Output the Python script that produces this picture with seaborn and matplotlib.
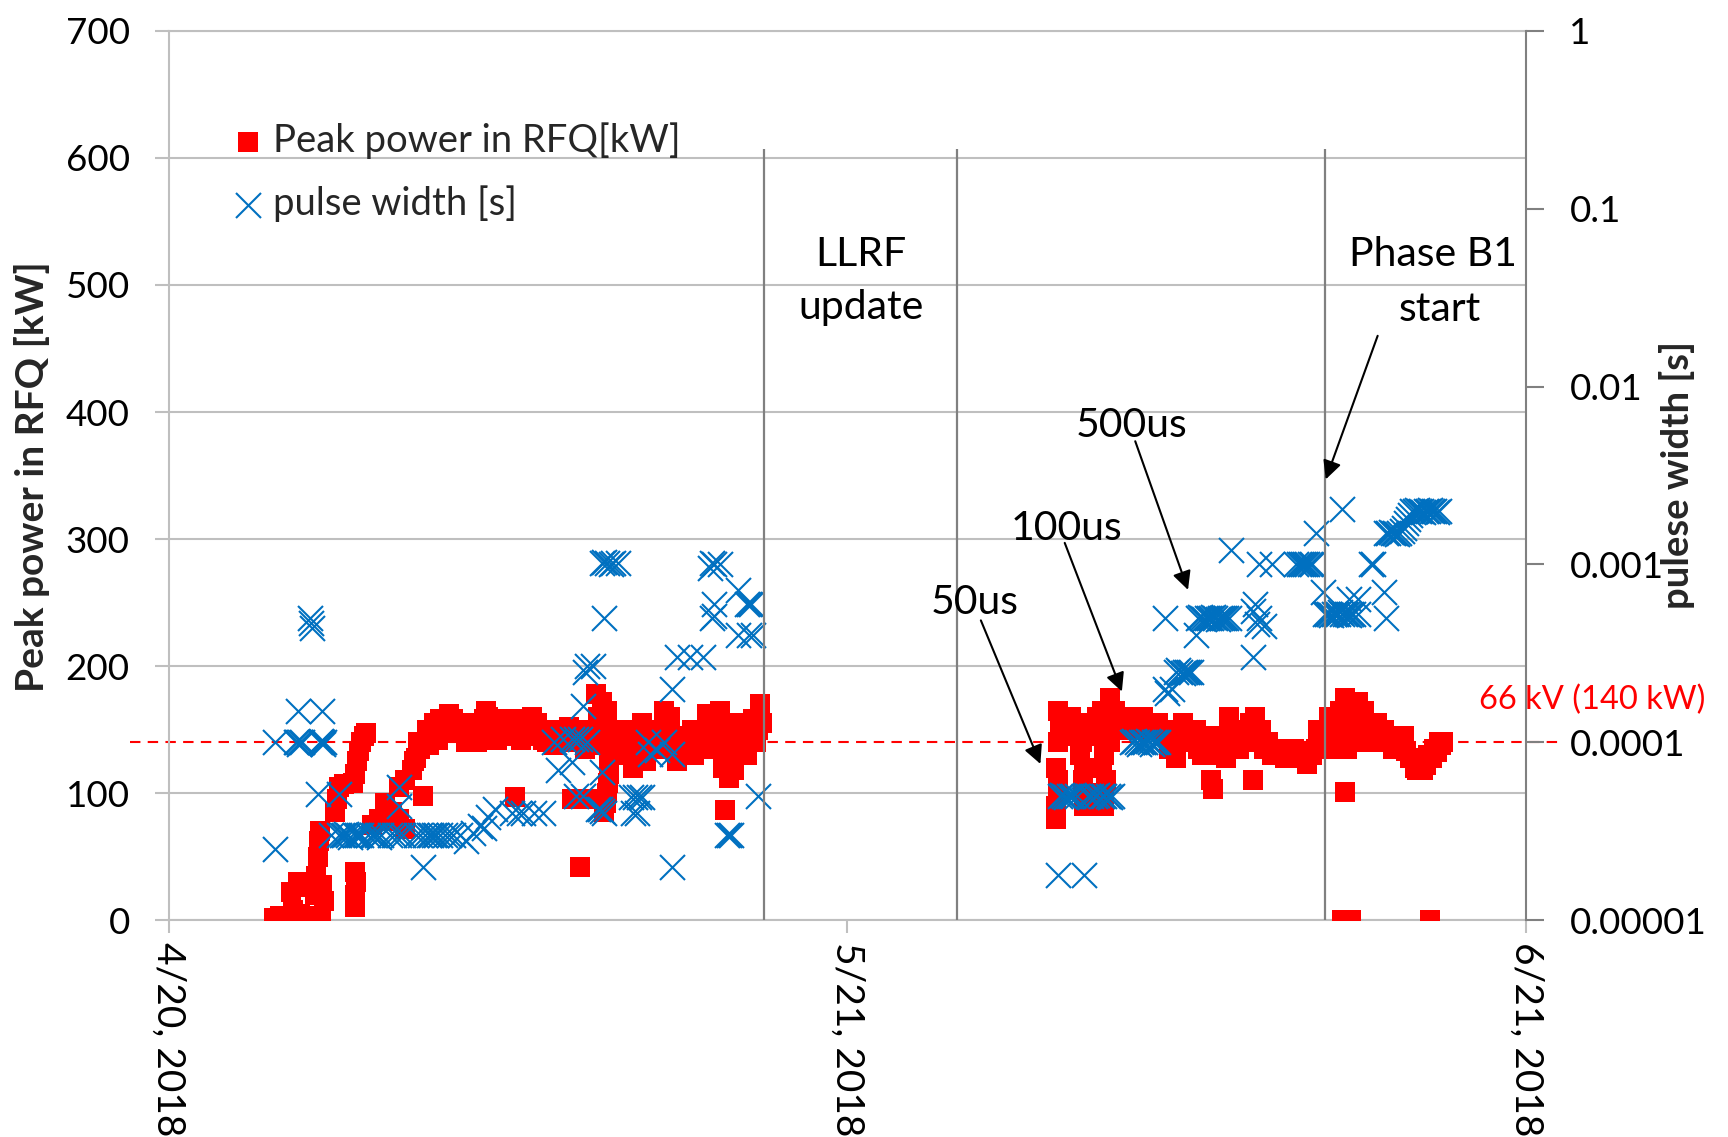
import numpy as np
import pandas as pd
import matplotlib
matplotlib.use("Agg")
import matplotlib.pyplot as plt
import matplotlib.dates as mdates
from matplotlib.ticker import FixedLocator, NullLocator, FixedFormatter
import seaborn as sns

# ---------------- data (days after 2018-04-20) ----------------
START = pd.Timestamp("2018-04-20")

# Peak power in RFQ [kW]  (day offset, kW)
power_points = [
    (4.8, 2), (5.1, 3), (5.4, 2), (5.6, 22), (5.7, 8), (5.9, 30), (6.0, 5), (6.1, 26),
    (6.3, 3), (6.6, 2), (6.7, 20), (6.75, 35), (6.8, 50), (6.85, 62), (6.9, 70), (6.95, 1),
    (7.0, 28), (7.1, 15),
    (7.6, 85), (7.7, 95), (7.8, 105), (8.0, 107),
    (8.4, 108), (8.5, 115), (8.6, 125), (8.7, 133), (8.8, 140), (8.9, 145), (9.0, 147),
    (8.5, 10), (8.5, 20), (8.55, 30), (8.5, 38),
    (9.3, 75), (9.6, 80), (9.9, 78), (9.9, 92), (10.2, 85), (10.5, 80), (10.8, 72),
    (10.5, 105), (10.8, 110), (11.6, 98),
    (11.1, 118), (11.3, 128), (11.5, 135), (11.7, 140), (12.0, 145), (12.3, 142), (12.6, 147),
    (11.2, 125), (11.4, 140), (11.8, 150), (11.9, 138), (12.1, 155), (12.2, 148), (12.5, 152),
    (12.7, 155), (12.9, 150), (13.1, 152), (13.3, 148),
    (12.4, 158), (12.8, 162), (13.0, 158),
    (13.5, 150), (13.8, 145), (14.1, 140), (14.3, 148),
    (13.6, 140), (13.7, 155), (13.9, 150), (14.0, 147), (14.2, 152), (14.4, 158), (14.6, 160),
    (14.8, 150), (15.0, 142), (15.2, 150), (15.4, 152), (15.6, 145), (15.9, 158), (16.0, 148),
    (16.2, 150), (16.4, 155), (16.5, 145), (16.8, 155), (17.0, 148), (17.2, 150), (17.3, 140),
    (14.5, 165), (14.7, 155), (14.9, 148),
    (15.5, 158), (15.8, 150), (16.1, 142), (16.3, 145), (15.8, 97),
    (16.6, 160), (16.9, 150), (17.1, 142),
    (17.5, 148), (17.8, 145), (18.2, 145), (18.5, 150), (18.8, 140), (19.1, 145), (19.3, 138),
    (17.4, 142), (17.6, 138), (17.9, 150), (18.0, 140), (18.3, 152), (18.6, 145), (18.9, 148),
    (19.0, 135), (19.2, 150), (19.4, 142), (19.7, 150),
    (18.4, 95), (18.8, 95), (19.2, 95), (18.8, 42),
    (19.5, 178), (19.8, 172), (20.0, 165), (19.6, 160),
    (19.9, 85), (20.0, 100), (20.1, 115), (20.1, 130), (20.0, 145),
    (19.95, 92), (20.05, 108), (20.1, 122), (20.15, 138),
    (20.5, 150), (20.8, 140), (21.0, 130), (21.2, 120), (21.3, 145), (21.6, 155), (21.8, 125),
    (20.3, 140), (20.6, 145), (20.7, 135), (20.9, 150), (21.1, 140), (21.4, 135), (21.5, 150),
    (21.7, 145), (21.9, 140), (22.0, 150), (22.2, 145), (22.4, 150), (22.5, 140), (22.7, 158),
    (22.1, 135), (22.6, 165), (22.8, 150), (22.9, 160), (23.0, 135), (23.2, 125),
    (23.1, 145), (23.3, 140), (23.5, 135), (23.8, 138), (23.9, 150), (24.1, 140), (24.3, 145),
    (24.5, 150), (24.7, 145), (24.8, 135), (25.0, 148),
    (23.7, 145), (24.0, 130), (24.6, 162), (24.9, 155), (25.1, 140), (25.2, 165),
    (25.3, 120), (25.6, 112), (25.4, 87), (25.8, 118),
    (25.5, 145), (25.7, 130), (25.9, 140), (26.0, 155), (26.2, 150), (26.3, 138), (26.5, 145),
    (26.7, 158), (26.9, 150), (27.1, 155),
    (25.8, 155), (26.1, 145), (26.4, 130), (26.6, 150), (26.8, 140), (27.0, 170), (27.0, 160),
    (40.5, 80), (40.5, 90), (40.6, 100), (40.6, 110), (40.6, 165), (40.8, 160), (41.0, 155),
    (40.7, 150), (41.7, 155), (41.7, 140), (41.8, 120), (41.8, 100), (41.8, 90),
    (40.5, 120), (40.6, 140), (40.9, 145), (41.2, 160), (41.5, 150), (41.6, 130), (41.75, 110),
    (41.9, 100), (42.1, 155), (42.3, 150), (42.4, 160), (42.5, 145), (42.6, 120), (42.7, 100),
    (42.6, 165), (42.8, 150), (42.7, 130), (42.8, 110), (42.7, 90), (43.0, 140), (43.0, 175),
    (42.9, 160), (43.2, 165), (43.4, 155), (43.6, 160), (43.8, 150), (44.0, 155), (44.2, 150),
    (44.5, 160), (44.9, 150), (45.2, 155), (45.6, 145), (45.8, 140), (45.9, 150), (46.1, 140),
    (43.9, 160), (44.3, 158), (44.7, 155), (45.1, 150), (45.4, 150),
    (45.7, 135), (46.0, 128), (46.3, 155), (46.7, 150),
    (46.5, 145), (46.9, 150), (47.0, 135), (47.4, 145), (47.8, 130), (48.1, 145), (48.5, 150),
    (48.7, 140), (48.9, 135), (49.1, 145), (49.3, 140), (49.6, 160), (49.9, 150), (50.2, 140),
    (46.8, 140), (47.2, 130), (47.6, 140), (48.0, 135), (48.3, 128), (47.6, 110), (47.7, 103),
    (48.4, 160), (49.5, 110), (49.4, 155), (49.7, 145), (50.0, 135),
    (50.4, 130), (50.8, 130), (51.2, 132), (51.6, 132), (52.0, 133), (52.4, 135), (52.0, 123),
    (50.6, 135), (51.0, 128), (51.4, 135), (51.8, 128), (52.2, 130), (52.7, 145), (52.9, 150),
    (52.5, 150), (52.5, 140),
    (53.0, 160), (53.4, 150), (53.5, 165), (53.9, 155), (54.1, 165), (54.4, 160), (54.5, 150),
    (53.2, 135), (53.6, 145), (53.8, 135), (53.7, 175), (53.8, 165),
    (54.3, 172), (54.6, 165), (54.9, 155), (55.0, 145), (55.2, 155), (55.5, 150), (54.7, 140),
    (54.8, 148), (55.1, 140), (55.4, 145), (55.7, 145), (55.9, 135), (56.2, 142),
    (55.8, 140), (56.1, 138), (56.4, 145), (56.5, 133),
    (56.7, 128), (57.0, 118), (57.4, 122), (57.7, 128), (57.9, 132), (58.1, 138), (58.2, 140),
    (56.9, 120), (57.2, 125), (57.5, 130), (57.8, 135), (58.0, 140), (57.3, 118),
    (53.7, 101), (53.6, 0), (54.0, 0), (57.6, 0),
]

# pulse width [s]  (day offset, seconds)
pulse_points = [
    (4.86, 2.5e-5), (4.86, 1e-4), (5.8, 1e-4), (6.0, 1e-4), (6.1, 1e-4), (6.9, 1e-4),
    (7.0, 1e-4), (7.1, 1e-4), (5.85, 1e-4), (5.95, 0.98e-4), (6.95, 1.02e-4), (7.05, 0.98e-4),
    (5.9, 1.5e-4), (7.0, 1.5e-4),
    (6.45, 5e-4), (6.5, 4.7e-4), (6.55, 4.4e-4),
    (6.8, 5.1e-5), (7.8, 5.1e-5), (10.5, 5.6e-5), (10.5, 4.4e-5),
    (7.4, 3e-5), (7.8, 3e-5), (8.0, 3e-5), (8.2, 3e-5), (8.5, 3e-5), (8.7, 3e-5), (9.3, 3e-5),
    (9.5, 3e-5), (9.7, 3e-5), (10.1, 3e-5), (10.5, 3e-5), (11.3, 3e-5), (11.5, 3e-5),
    (11.7, 3e-5), (12.0, 3e-5), (12.2, 3e-5), (12.4, 3e-5), (12.8, 3e-5), (13.3, 3e-5),
    (7.9, 3e-5), (8.1, 3.05e-5), (8.3, 2.95e-5), (8.6, 3e-5), (8.8, 3e-5), (9.1, 3e-5),
    (9.4, 3e-5), (9.6, 2.95e-5), (10.3, 3e-5), (10.7, 3e-5), (11.9, 3e-5), (12.1, 3e-5),
    (12.6, 3e-5), (13.0, 3e-5),
    (13.6, 2.8e-5), (13.9, 3.1e-5), (14.2, 3.4e-5), (14.4, 3.3e-5), (14.6, 3.8e-5),
    (14.9, 4.2e-5), (11.6, 2e-5),
    (15.7, 4e-5), (16.0, 4e-5), (16.2, 4e-5), (16.7, 4e-5), (17.1, 4e-5),
    (17.8, 7e-5), (18.4, 7.8e-5), (18.0, 1.05e-4), (18.4, 1.05e-4), (18.6, 1.05e-4),
    (18.8, 1.05e-4), (19.1, 1e-4), (17.6, 1e-4),
    (18.6, 5e-5), (18.9, 5e-5), (19.8, 6.8e-5),
    (19.6, 4.2e-5), (19.7, 4.2e-5), (19.8, 4.1e-5), (19.9, 4e-5),
    (21.1, 4.9e-5), (21.3, 4.9e-5), (21.5, 4.9e-5), (21.6, 4.9e-5), (21.2, 4e-5), (21.4, 4e-5),
    (22.0, 8.6e-5), (23.0, 8.6e-5), (21.9, 1e-4), (22.6, 1e-4), (22.3, 9e-5),
    (18.9, 1.6e-4), (19.0, 2.5e-4), (19.1, 2.7e-4), (19.4, 2.7e-4), (19.9, 5e-4),
    (19.8, 1.02e-3), (20.0, 1.02e-3), (20.2, 1e-3), (20.5, 1.02e-3), (19.9, 1.03e-3),
    (20.3, 1.02e-3),
    (23.0, 2e-4), (23.2, 3e-4), (23.8, 3e-4), (24.4, 3e-4), (23.0, 2e-5),
    (24.7, 9.5e-4), (24.9, 1e-3), (25.2, 1e-3), (24.8, 1.02e-3),
    (24.9, 6e-4), (24.8, 5e-4), (24.9, 5.1e-4),
    (26.0, 7.2e-4), (26.4, 6e-4), (26.5, 6e-4), (26.6, 6e-4), (26.0, 4e-4), (26.5, 4e-4),
    (26.7, 4e-4), (25.5, 3e-5), (25.6, 3e-5), (25.7, 3e-5), (26.9, 5e-5),
    (40.6, 1.8e-5), (41.8, 1.8e-5),
    (40.7, 5e-5), (40.9, 5e-5), (41.1, 5e-5), (41.3, 5e-5), (41.5, 5e-5), (42.0, 5e-5),
    (42.3, 5e-5), (42.6, 5e-5), (42.9, 5e-5), (43.1, 5e-5),
    (40.8, 5.05e-5), (41.0, 4.95e-5), (41.2, 5e-5), (42.1, 5e-5), (42.4, 5.05e-5),
    (42.7, 5e-5), (43.0, 4.95e-5),
    (44.0, 1e-4), (44.2, 1e-4), (44.4, 1e-4), (44.6, 1e-4), (44.8, 1e-4), (45.0, 1e-4), (45.2, 1e-4),
    (44.1, 1.02e-4), (44.3, 0.98e-4), (44.5, 1e-4), (44.7, 1.02e-4), (44.9, 0.98e-4), (45.1, 1e-4),
    (45.5, 2e-4), (45.6, 1.9e-4), (45.8, 2e-4),
    (46.0, 2.5e-4), (46.2, 2.5e-4), (46.4, 2.5e-4), (46.6, 2.5e-4), (46.7, 2.5e-4),
    (46.1, 2.55e-4), (46.3, 2.45e-4), (46.5, 2.5e-4),
    (45.5, 5e-4), (46.9, 4e-4),
    (47.0, 5e-4), (47.2, 5e-4), (47.4, 5e-4), (47.6, 5e-4), (47.8, 5e-4), (48.0, 5e-4),
    (48.2, 5e-4), (48.4, 5e-4),
    (47.1, 5.05e-4), (47.3, 4.95e-4), (47.5, 5e-4), (47.7, 5.05e-4), (47.9, 4.95e-4),
    (48.1, 5e-4), (48.3, 5e-4),
    (48.5, 1.2e-3), (49.8, 1e-3),
    (49.6, 6e-4), (49.8, 5e-4), (49.7, 4.6e-4), (49.5, 5.5e-4), (50.0, 4.5e-4), (49.5, 3e-4),
    (50.4, 1e-3), (51.5, 1e-3), (51.7, 1e-3), (51.9, 1e-3), (52.1, 1e-3), (54.9, 1e-3), (55.0, 1e-3),
    (51.6, 1e-3), (51.8, 1e-3), (52.0, 1e-3), (52.2, 1e-3),
    (52.4, 1.5e-3), (53.6, 2.05e-3), (52.7, 7e-4), (55.5, 7e-4),
    (52.8, 5.3e-4), (53.0, 5.3e-4), (53.2, 5.3e-4), (53.4, 5.3e-4), (53.6, 5.3e-4),
    (53.8, 5.3e-4), (54.0, 5.3e-4), (54.3, 5.3e-4),
    (52.9, 5.3e-4), (53.1, 5.2e-4), (53.3, 5.3e-4), (53.5, 5.4e-4), (53.7, 5.3e-4),
    (53.9, 5.2e-4), (54.1, 5.3e-4),
    (53.9, 6.4e-4), (54.3, 6.4e-4), (55.6, 5e-4),
    (55.6, 1.5e-3), (55.9, 1.5e-3), (56.2, 1.5e-3), (56.5, 1.7e-3),
    (55.7, 1.5e-3), (55.8, 1.52e-3), (56.0, 1.5e-3), (56.1, 1.48e-3), (56.3, 1.55e-3),
    (56.4, 1.6e-3), (56.6, 1.8e-3), (56.7, 1.9e-3),
    (56.8, 2e-3), (57.1, 2e-3), (57.4, 2e-3), (57.7, 2e-3), (58.0, 2e-3),
    (56.9, 2e-3), (57.0, 2.02e-3), (57.2, 2e-3), (57.3, 1.98e-3), (57.5, 2e-3), (57.6, 2.02e-3),
    (57.8, 2e-3), (57.9, 1.98e-3),
]

x_tick_dates = ["2018-04-20", "2018-05-21", "2018-06-21"]
x_tick_labels = ["4/20, 2018", "5/21, 2018", "6/21, 2018"]
left_ticks = [0, 100, 200, 300, 400, 500, 600, 700]
right_ticks = [1e-5, 1e-4, 1e-3, 1e-2, 1e-1, 1]
right_labels = ["0.00001", "0.0001", "0.001", "0.01", "0.1", "1"]
event_days = [27.2, 36.0, 52.8]          # vertical marker lines
event_top_kw = 607
threshold_kw = 140
threshold_label = "66 kV (140 kW)"

# ---------------- build tables ----------------
def to_date(d):
    return START + pd.to_timedelta(np.asarray(d, dtype=float), unit="D")

power_df = pd.DataFrame(power_points, columns=["day", "kw"])
power_df["date"] = to_date(power_df["day"])
pulse_df = pd.DataFrame(pulse_points, columns=["day", "sec"])
pulse_df["date"] = to_date(pulse_df["day"])

def dn(d):
    return mdates.date2num(START + pd.Timedelta(days=d))

# ---------------- style ----------------
sns.set_theme(style="white")
plt.rcParams["font.family"] = ["Lato", "DejaVu Sans"]

RED = "#FF0000"
BLUE = "#0070C0"
GRID = "#BFBFBF"
DARK = "#808080"

fig = plt.figure(figsize=(17.28, 11.37), dpi=100)
ax = fig.add_axes([0.0976, 0.1907, 0.8833 - 0.0976, 0.9728 - 0.1907])
ax2 = ax.twinx()

sns.scatterplot(data=power_df, x="date", y="kw", marker="s", color=RED, s=190,
                linewidth=0, ax=ax, label="Peak power in RFQ[kW]", zorder=3)
sns.scatterplot(data=pulse_df, x="date", y="sec", marker="x", color=BLUE, s=324,
                linewidth=1.5, ax=ax2, label="pulse width [s]", zorder=3)
for a in (ax, ax2):
    if a.get_legend() is not None:
        a.get_legend().remove()

# axes limits / scales
ax.set_xlim(START, pd.Timestamp("2018-06-21"))
ax.set_ylim(0, 700)
ax2.set_yscale("log")
ax2.set_ylim(1e-5, 1)

ax.yaxis.set_major_locator(FixedLocator(left_ticks))
ax.set_xticks(pd.to_datetime(x_tick_dates))
ax.set_xticklabels(x_tick_labels, rotation=270, ha="center", va="top")
ax2.yaxis.set_major_locator(FixedLocator(right_ticks))
ax2.yaxis.set_major_formatter(FixedFormatter(right_labels))
ax2.yaxis.set_minor_locator(NullLocator())

ax.set_xlabel("")
ax.set_ylabel("")
ax2.set_ylabel("")

# grid and spines
ax.yaxis.grid(True, color=GRID, lw=1.5, zorder=0)
ax.xaxis.grid(False)
ax.set_axisbelow(True)
for name, sp in ax.spines.items():
    sp.set_color(GRID)
    sp.set_linewidth(1.5)
ax.spines["right"].set_visible(False)
for name, sp in ax2.spines.items():
    sp.set_visible(False)
ax2.spines["right"].set_visible(True)
ax2.spines["right"].set_color(DARK)
ax2.spines["right"].set_linewidth(1.5)

ax.tick_params(axis="y", which="both", left=True, length=10, width=1.5, color=GRID,
               labelsize=26.5, pad=18, labelcolor="black")
ax.tick_params(axis="x", which="both", bottom=True, length=9, width=1.5, color=GRID,
               labelsize=28, pad=7, labelcolor="black")
ax2.tick_params(axis="y", which="both", right=True, length=13, width=1.5, color=DARK,
                labelsize=26.5, pad=18, labelcolor="black")

# threshold dashed line (extends past the axes as in the original)
ax.plot([dn(-1.76), dn(63.6)], [threshold_kw, threshold_kw], color=RED, lw=1.5,
        ls=(0, (5, 3.5)), clip_on=False, zorder=2)
ax.text(dn(65.0), 173.5, threshold_label, color=RED, fontsize=23.5,
        ha="center", va="center", clip_on=False)

# event lines (drawn above markers)
ax2.vlines([dn(d) for d in event_days], 0, event_top_kw / 700.0,
           transform=ax2.get_xaxis_transform(), color=DARK, lw=1.6, zorder=5)

# annotations
ann_fs = 29.5
txt_kw = dict(fontsize=ann_fs, ha="center", va="baseline", color="black", zorder=6,
              transform=ax.transData)
ax2.text(dn(31.6), 515, "LLRF", **txt_kw)
ax2.text(dn(31.6), 473, "update", **txt_kw)
ax2.text(dn(57.73), 515, "Phase B1", **txt_kw)
ax2.text(dn(58.03), 472, "start", **txt_kw)
ax2.text(dn(43.99), 380, "500us", **txt_kw)
ax2.text(dn(41.02), 299, "100us", **txt_kw)
ax2.text(dn(36.79), 241, "50us", **txt_kw)

arrows = [((44.14, 377), (46.55, 260)),
          ((40.92, 297), (43.53, 180)),
          ((37.09, 236), (39.81, 123)),
          ((55.21, 460), (52.84, 347))]
for (x0, y0), (x1, y1) in arrows:
    ax2.annotate("", xy=(dn(x1), y1), xytext=(dn(x0), y0),
                 xycoords=ax.transData, textcoords=ax.transData,
                 arrowprops=dict(arrowstyle="-|>", color="black", lw=1.5,
                                 mutation_scale=28, shrinkA=0, shrinkB=0),
                 zorder=6)

# axis titles
fig.text(0.0185, 0.5805, "Peak power in RFQ [kW]", rotation=90, ha="center", va="center",
         fontsize=28, fontweight="bold")
fig.text(0.9705, 0.582, "pulese width [s]", rotation=90, ha="center", va="center",
         fontsize=27.5, fontweight="bold")

# legend
h1, l1 = ax.get_legend_handles_labels()
h2, l2 = ax2.get_legend_handles_labels()
leg = ax2.legend(h1 + h2, l1 + l2, loc="upper left", bbox_to_anchor=(0.0445, 0.897),
                 frameon=False, fontsize=27.5, handlelength=1.0, handletextpad=0.15,
                 borderpad=0, borderaxespad=0, labelspacing=0.68, scatterpoints=1)

fig.savefig("out.png", dpi=100, facecolor="white")
